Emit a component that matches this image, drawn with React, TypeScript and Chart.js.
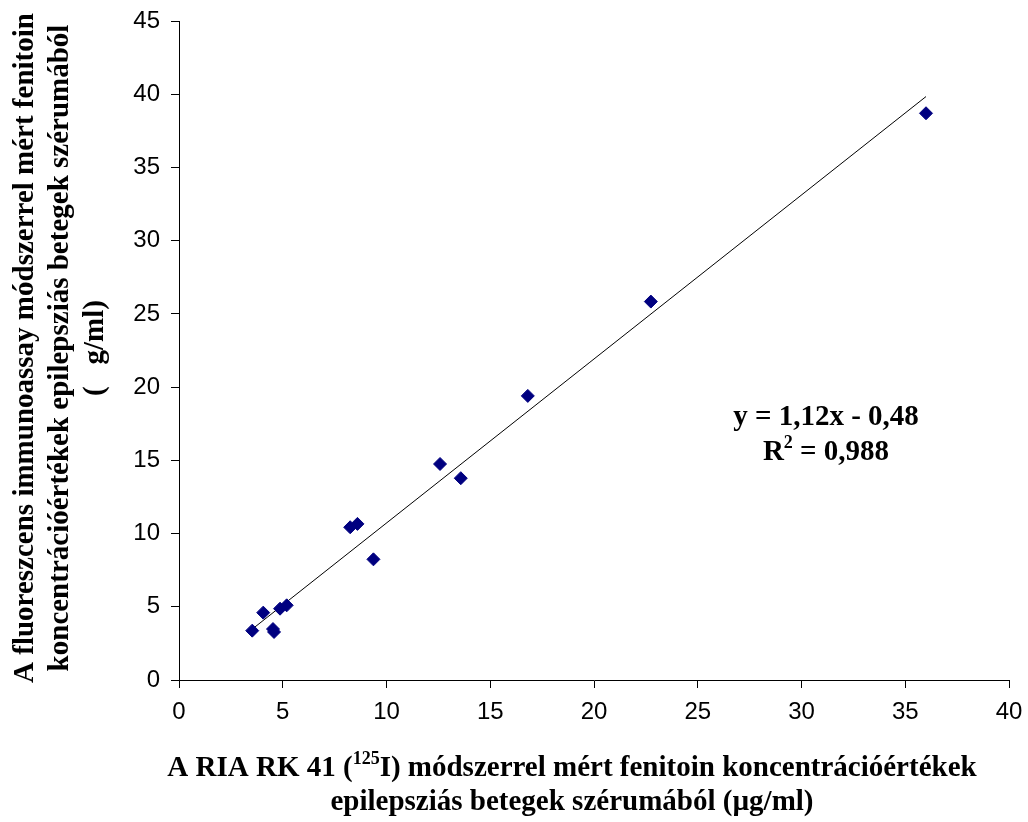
import React, { useEffect, useRef } from 'react';
import { Chart, registerables } from 'chart.js';

Chart.register(...registerables);

// RIA RK 41 values (x) and fluorescence immunoassay values (y), µg/ml
const xValues = [3.53, 4.06, 4.53, 4.58, 4.87, 5.19, 8.25, 8.6, 9.37, 12.58, 13.58, 16.81, 22.74, 36.0];
const yValues = [3.37, 4.6, 3.48, 3.28, 4.87, 5.1, 10.43, 10.66, 8.24, 14.75, 13.78, 19.4, 25.84, 38.7];

const slope = 1.12;
const intercept = -0.48;

const xTicks = [0, 5, 10, 15, 20, 25, 30, 35, 40];
const yTicks = [0, 5, 10, 15, 20, 25, 30, 35, 40, 45];

const eqLine1 = 'y = 1,12x - 0,48';
const eqLine2a = 'R';
const eqLine2sup = '2';
const eqLine2b = ' = 0,988';

const xTitle1a = 'A RIA RK 41 (';
const xTitle1sup = '125';
const xTitle1b = 'I) módszerrel mért fenitoin koncentrációértékek';
const xTitle2 = 'epilepsziás betegek szérumából (µg/ml)';

const yTitleLines = [
  'A fluoreszcens immunoassay módszerrel mért fenitoin',
  'koncentrációértékek epilepsziás betegek szérumából',
  '(   g/ml)',
];

const SERIF = '"Liberation Serif", "Times New Roman", serif';
const SANS = '"Liberation Sans", Arial, sans-serif';

type Seg = { text: string; font: string; dy: number };

function drawSegs(ctx: CanvasRenderingContext2D, segs: Seg[], cx: number, baseline: number) {
  let total = 0;
  const widths = segs.map((s) => {
    ctx.font = s.font;
    const w = ctx.measureText(s.text).width;
    total += w;
    return w;
  });
  let x = cx - total / 2;
  ctx.textAlign = 'left';
  ctx.textBaseline = 'alphabetic';
  segs.forEach((s, i) => {
    ctx.font = s.font;
    ctx.fillText(s.text, x, baseline + s.dy);
    x += widths[i];
  });
}

const textPlugin = {
  id: 'textPlugin',
  afterDraw(chart: any) {
    const ctx: CanvasRenderingContext2D = chart.ctx;
    ctx.save();
    ctx.fillStyle = '#000';
    const main = `bold 29px ${SERIF}`;
    const sup = `bold 18px ${SERIF}`;

    // X axis title
    drawSegs(
      ctx,
      [
        { text: xTitle1a, font: main, dy: 0 },
        { text: xTitle1sup, font: sup, dy: -12 },
        { text: xTitle1b, font: main, dy: 0 },
      ],
      572,
      776
    );
    drawSegs(ctx, [{ text: xTitle2, font: main, dy: 0 }], 572, 810);

    // Equation
    drawSegs(ctx, [{ text: eqLine1, font: main, dy: 0 }], 826, 425);
    drawSegs(
      ctx,
      [
        { text: eqLine2a, font: main, dy: 0 },
        { text: eqLine2sup, font: sup, dy: -12 },
        { text: eqLine2b, font: main, dy: 0 },
      ],
      826,
      460
    );

    // Y axis title (rotated)
    const baselines = [33, 68, 103];
    yTitleLines.forEach((line, i) => {
      ctx.save();
      ctx.translate(baselines[i], 348);
      ctx.rotate(-Math.PI / 2);
      ctx.font = main;
      ctx.textAlign = 'center';
      ctx.textBaseline = 'alphabetic';
      ctx.fillText(line, 0, 0);
      ctx.restore();
    });
    ctx.restore();
  },
};

export default function App() {
  const ref = useRef<HTMLCanvasElement | null>(null);

  useEffect(() => {
    if (!ref.current) return;
    const points = xValues.map((x, i) => ({ x, y: yValues[i] }));
    const xMin = Math.min(...xValues);
    const xMax = Math.max(...xValues);
    const trend = [
      { x: xMin, y: slope * xMin + intercept },
      { x: xMax, y: slope * xMax + intercept },
    ];

    const axisCommon = {
      type: 'linear' as const,
      grid: {
        display: true,
        drawOnChartArea: false,
        drawTicks: true,
        tickLength: 8,
        color: '#000',
        lineWidth: 1,
      },
      border: { display: true, color: '#000', width: 1 },
    };

    const zeroPad = (s: any) => {
      s.paddingTop = 0;
      s.paddingBottom = 0;
      s.paddingLeft = 0;
      s.paddingRight = 0;
    };

    const chart = new Chart(ref.current, {
      type: 'scatter',
      data: {
        datasets: [
          {
            type: 'line',
            data: trend,
            borderColor: '#000',
            borderWidth: 1,
            pointRadius: 0,
            fill: false,
            tension: 0,
            order: 2,
          } as any,
          {
            type: 'scatter',
            data: points,
            pointStyle: 'rectRot',
            pointRadius: 6.5,
            pointBorderWidth: 1,
            backgroundColor: '#000080',
            borderColor: '#000080',
            order: 1,
          },
        ],
      },
      options: {
        responsive: false,
        animation: false,
        layout: { autoPadding: false, padding: { left: 0, top: 21, right: 19, bottom: 0 } },
        plugins: {
          legend: { display: false },
          tooltip: { enabled: false },
          title: { display: false },
        },
        scales: {
          x: {
            ...axisCommon,
            position: 'bottom',
            min: 0,
            max: 40,
            afterBuildTicks: (s: any) => {
              s.ticks = xTicks.map((v) => ({ value: v }));
            },
            afterFit: (s: any) => {
              s.height = 142;
              zeroPad(s);
            },
            ticks: {
              font: { family: SANS, size: 24 },
              color: '#000',
              padding: 10,
              maxRotation: 0,
              autoSkip: false,
            },
          },
          y: {
            ...axisCommon,
            position: 'left',
            min: 0,
            max: 45,
            afterBuildTicks: (s: any) => {
              s.ticks = yTicks.map((v) => ({ value: v }));
            },
            afterFit: (s: any) => {
              s.width = 179;
              zeroPad(s);
            },
            ticks: {
              font: { family: SANS, size: 24 },
              color: '#000',
              padding: 11,
              autoSkip: false,
            },
          },
        },
      },
      plugins: [textPlugin],
    } as any);

    return () => chart.destroy();
  }, []);

  return (
    <div style={{ position: 'absolute', left: 0, top: 0, width: 1028, height: 822, background: '#fff' }}>
      <canvas ref={ref} width={1028} height={822} style={{ display: 'block' }} />
    </div>
  );
}
